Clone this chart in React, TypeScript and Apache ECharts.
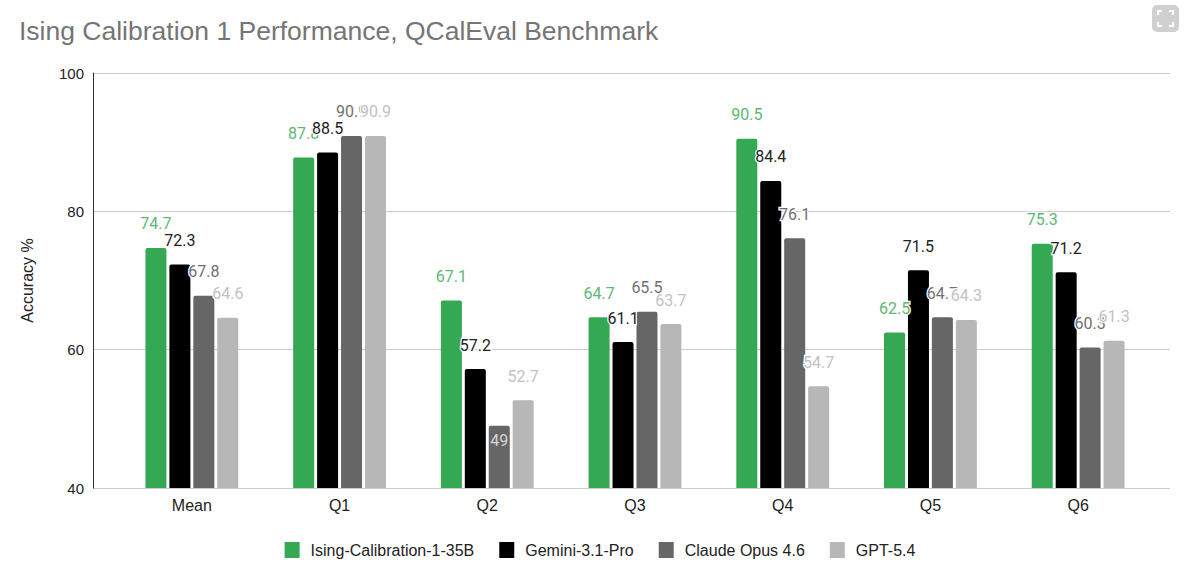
import React, { useEffect, useRef } from "react";
import * as echarts from "echarts";

const categories = ["Mean", "Q1", "Q2", "Q3", "Q4", "Q5", "Q6"];
const seriesNames = ["Ising-Calibration-1-35B", "Gemini-3.1-Pro", "Claude Opus 4.6", "GPT-5.4"];
const isingValues = [74.7, 87.8, 67.1, 64.7, 90.5, 62.5, 75.3];
const geminiValues = [72.3, 88.5, 57.2, 61.1, 84.4, 71.5, 71.2];
const claudeValues = [67.8, 90.9, 49, 65.5, 76.1, 64.7, 60.3];
const gptValues = [64.6, 90.9, 52.7, 63.7, 54.7, 64.3, 61.3];
const yTicks = [40, 60, 80, 100];

const barColors = ["#34a853", "#000000", "#666666", "#b7b7b7"];
const labelColors = ["#5cb874", "#222222", "#707070", "#c2c2c2"];

export default function App() {
  const ref = useRef<HTMLDivElement>(null);
  useEffect(() => {
    document.body.style.margin = "0";
    if (!ref.current) return;
    const chart = echarts.init(ref.current, undefined, { renderer: "svg" });
    const allValues = [isingValues, geminiValues, claudeValues, gptValues];
    const font = "Liberation Sans, Arial, sans-serif";
    const series = allValues.map((vals, i) => ({
      name: seriesNames[i],
      type: "bar",
      xAxisIndex: 1,
      yAxisIndex: 1,
      barWidth: 21,
      barGap: "14%",
      itemStyle: { color: barColors[i], borderRadius: [2, 2, 0, 0] },
      label: {
        show: true,
        position: "top",
        distance: 16,
        color: labelColors[i],
        fontSize: 16,
        fontFamily: "Roboto, sans-serif",
        textBorderColor: "#ffffff",
        textBorderWidth: 2.5,
      },
      data: vals.map((v) =>
        i === 2 && v < 50
          ? {
              value: v,
              label: { position: "insideTop", distance: 7, color: "#d6d6d6", textBorderWidth: 0 },
            }
          : v
      ),
    }));
    chart.setOption({
      animation: false,
      textStyle: { fontFamily: font },
      title: {
        text: "Ising Calibration 1 Performance, QCalEval Benchmark",
        left: 14,
        top: 12,
        textStyle: { fontSize: 26.5, fontWeight: "normal", color: "#757575", fontFamily: font },
      },
      legend: {
        data: seriesNames,
        left: "center",
        top: 537,
        icon: "rect",
        itemWidth: 15,
        itemHeight: 16,
        itemGap: 25,
        textStyle: { fontSize: 16, color: "#222222", fontFamily: font, padding: [0, 0, 0, 6] },
      },
      grid: [
        { left: 93, right: 30, top: 73, bottom: 81 },
        { left: 118, right: 48, top: 73, bottom: 81 },
      ],
      xAxis: [
        { type: "value", gridIndex: 0, show: false, min: 0, max: 1 },
        {
          type: "category",
          gridIndex: 1,
          data: categories,
          axisLine: { show: false },
          axisTick: { show: false },
          axisLabel: { fontSize: 16, color: "#222222", margin: 9, fontFamily: font },
        },
      ],
      yAxis: [
        {
          type: "value",
          gridIndex: 0,
          min: yTicks[0],
          max: yTicks[yTicks.length - 1],
          interval: 20,
          name: "Accuracy %",
          nameLocation: "middle",
          nameGap: 58,
          nameTextStyle: { fontSize: 16, color: "#222222", fontFamily: font },
          axisLine: { show: true, lineStyle: { color: "#333333", width: 1 } },
          axisTick: { show: false },
          axisLabel: { fontSize: 15, color: "#222222", margin: 9, fontFamily: font },
          splitLine: { show: true, lineStyle: { color: "#cccccc", width: 1 } },
        },
        {
          type: "value",
          gridIndex: 1,
          min: yTicks[0],
          max: yTicks[yTicks.length - 1],
          show: false,
          splitLine: { show: false },
        },
      ],
      graphic: [
        {
          type: "group",
          children: [
            { type: "rect", shape: { x: 1152, y: 5, width: 27, height: 27, r: 5 }, style: { fill: "#d0d0d0" } },
            { type: "polyline", shape: { points: [[1158, 15], [1158, 11], [1162, 11]] }, style: { stroke: "#fff", lineWidth: 2, fill: "none" } },
            { type: "polyline", shape: { points: [[1169, 11], [1173, 11], [1173, 15]] }, style: { stroke: "#fff", lineWidth: 2, fill: "none" } },
            { type: "polyline", shape: { points: [[1158, 22], [1158, 26], [1162, 26]] }, style: { stroke: "#fff", lineWidth: 2, fill: "none" } },
            { type: "polyline", shape: { points: [[1169, 26], [1173, 26], [1173, 22]] }, style: { stroke: "#fff", lineWidth: 2, fill: "none" } },
          ],
        },
      ],
      series,
    });
    return () => chart.dispose();
  }, []);
  return <div ref={ref} style={{ width: 1200, height: 569 }} />;
}
